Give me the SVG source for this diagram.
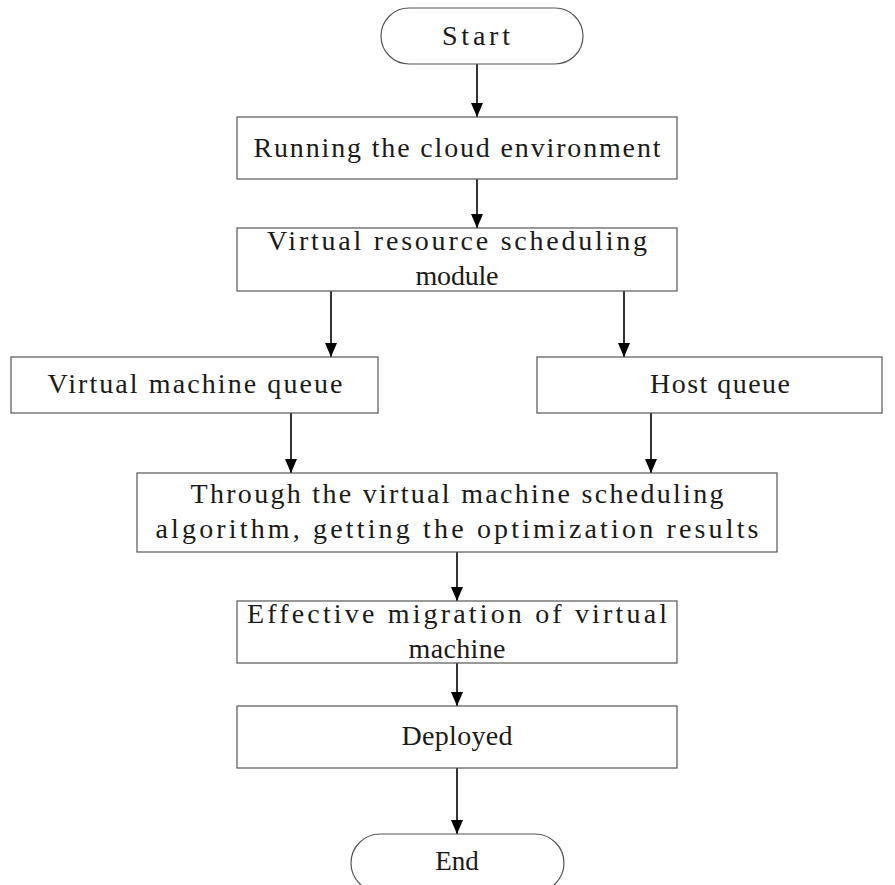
<svg xmlns="http://www.w3.org/2000/svg" width="895" height="885" viewBox="0 0 895 885">
<style>
.box{fill:#fff;stroke:#555;stroke-width:1.2}
.t{font-family:"Liberation Serif","Noto Serif CJK SC",serif;font-size:28px;fill:#1a1a1a;text-anchor:middle}
.ts{font-family:"Liberation Serif",serif;font-size:27px;fill:#1a1a1a;text-anchor:middle}
.c{stroke:#000;stroke-width:1.6;fill:none;marker-end:url(#ah)}
</style>
<defs>
<marker id="ah" markerWidth="14" markerHeight="12" refX="14" refY="6" orient="auto" markerUnits="userSpaceOnUse" viewBox="0 0 14 12">
<path d="M0,0 L14,6 L0,12 Z" fill="#000"/>
</marker>
</defs>
<rect width="895" height="885" fill="#fff"/>
<g id="connectors">
<line class="c" x1="477" y1="64" x2="477" y2="117"/>
<line class="c" x1="477" y1="179" x2="477" y2="228"/>
<line class="c" x1="331" y1="291" x2="331" y2="357"/>
<line class="c" x1="624" y1="291" x2="624" y2="357"/>
<line class="c" x1="291" y1="413" x2="291" y2="473"/>
<line class="c" x1="651" y1="413" x2="651" y2="473"/>
<line class="c" x1="457" y1="552" x2="457" y2="601"/>
<line class="c" x1="457" y1="663" x2="457" y2="706"/>
<line class="c" x1="457" y1="768" x2="457" y2="834"/>
</g>
<g id="start">
<rect class="box" x="381" y="8" width="202" height="56" rx="28" ry="28"/>
<text class="t" x="476" y="45" textLength="68" lengthAdjust="spacing">Start</text>
</g>
<g id="running">
<rect class="box" x="237" y="117" width="440" height="62"/>
<text class="t" x="457" y="157" textLength="407" lengthAdjust="spacing">Running the cloud environment</text>
</g>
<g id="vrsm">
<rect class="box" x="237" y="228" width="440" height="63"/>
<text class="t" x="457" y="250" textLength="380" lengthAdjust="spacing">Virtual resource scheduling</text>
<text class="t" x="457" y="285" textLength="83" lengthAdjust="spacing">module</text>
</g>
<g id="vmqueue">
<rect class="box" x="11" y="357" width="367" height="56"/>
<text class="t" x="195" y="393" textLength="295" lengthAdjust="spacing">Virtual machine queue</text>
</g>
<g id="hostqueue">
<rect class="box" x="537" y="357" width="345" height="56"/>
<text class="t" x="720" y="393" textLength="140" lengthAdjust="spacing">Host queue</text>
</g>
<g id="through">
<rect class="box" x="137" y="473" width="640" height="79"/>
<text class="t" x="457" y="503" textLength="533" lengthAdjust="spacing">Through the virtual machine scheduling</text>
<text class="t" x="457" y="538" textLength="603" lengthAdjust="spacing">algorithm, getting the optimization results</text>
</g>
<g id="effective">
<rect class="box" x="237" y="601" width="440" height="62"/>
<text class="t" x="457" y="623" textLength="420" lengthAdjust="spacing">Effective migration of virtual</text>
<text class="t" x="457" y="658" textLength="97" lengthAdjust="spacing">machine</text>
</g>
<g id="deployed">
<rect class="box" x="237" y="706" width="440" height="62"/>
<text class="t" x="457" y="745" textLength="111" lengthAdjust="spacing">Deployed</text>
</g>
<g id="end">
<rect class="box" x="351" y="834" width="213" height="58" rx="29" ry="29"/>
<text class="ts" x="457" y="870">End</text>
</g>
</svg>
